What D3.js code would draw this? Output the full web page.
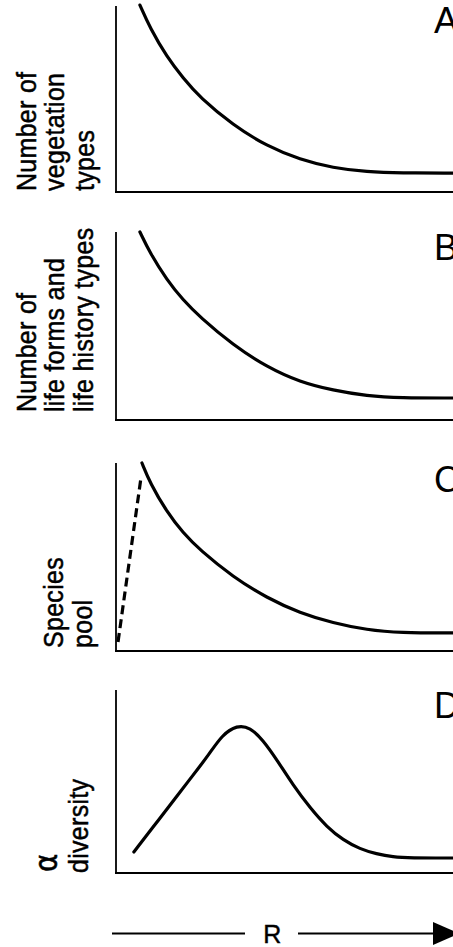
<!DOCTYPE html>
<html lang="en">
<head>
<meta charset="utf-8">
<title>diversity vs R</title>
<script src="https://d3js.org/d3.v7.min.js"></script>
<style type="text/css">
  body { margin: 0; background: white; }
  text { font-family: "Liberation Sans", Arial, sans-serif; fill: black; }
  .lab { stroke: black; stroke-width: 0.45px; letter-spacing: 0.3px; }
</style>
</head>
<body>
<div id="chart"></div>
<script>
  // R position along the gradient (0..100), values are heights (0..100 = top of axis)
  var rA = [7.1, 10.1, 15.1, 19.9, 24.9, 34.7, 44.8, 54.6, 64.4, 74.5, 84.3, 100];
  var vegTypes = [100.5, 88.2, 72.6, 61.3, 50.8, 36.0, 24.6, 17.4, 12.9, 10.8, 10.2, 10.2];

  var rB = [7.1, 10.1, 15.1, 19.9, 24.9, 34.7, 44.8, 54.6, 64.4, 74.5, 84.3, 100];
  var lifeForms = [100, 88.8, 74.5, 63.8, 54.8, 39.9, 28.2, 20.2, 15.8, 12.8, 11.7, 11.7];

  var rC = [7.7, 10.1, 15.1, 19.9, 24.9, 34.7, 44.8, 54.6, 64.4, 74.5, 84.3, 100];
  var speciesPool = [100, 89.4, 73.9, 62.8, 53.7, 39.4, 28.2, 20.2, 14.9, 11.2, 9.6, 9.6];
  var rCdash = [0.6, 7.4];
  var poolRise = [4.8, 92];

  var rD = [5.3, 13.1, 18.1, 22.8, 27.6, 31.5, 35.9, 39.8, 43.6, 47.8, 52.5, 57.6, 62.6, 67.4, 72.4, 77.3, 82.2, 87.2, 100];
  var alphaDiv = [11.5, 30.1, 42.1, 53.3, 64.8, 75.5, 80.8, 79.6, 72.7, 61.7, 48.1, 35.5, 25.1, 18.0, 13.1, 10.4, 8.7, 8.2, 8.2];

  var panelLetters = ["A", "B", "C", "D"];
  var labelA = ["Number of", "vegetation", "types"];
  var labelB = ["Number of", "life forms and", "life history types"];
  var labelC = ["Species", "pool"];
  var labelD = ["\u03b1", "diversity"];

  var W = 453, H = 947;
  var svg = d3.select("#chart").append("svg")
    .attr("width", W)
    .attr("height", H);

  var x = d3.scaleLinear().domain([0, 100]).range([116, 453]);

  // layout of each panel (pixel frame only)
  var panels = [
    {top: 6,   bottom: 192, r: rA, v: vegTypes,    label: labelA, lx: [36, 64, 94], ly: 191, letterY: 33},
    {top: 232, bottom: 420, r: rB, v: lifeForms,   label: labelB, lx: [36, 64, 93], ly: 412, letterY: 260},
    {top: 463, bottom: 651, r: rC, v: speciesPool, label: labelC, lx: [63, 92],     ly: 648, letterY: 492},
    {top: 690, bottom: 873, r: rD, v: alphaDiv,    label: labelD, lx: [57, 88],     ly: 873, letterY: 718}
  ];

  var line = d3.line().curve(d3.curveBasis);

  panels.forEach(function(p, i) {
    var y = d3.scaleLinear().domain([0, 100]).range([p.bottom, p.top]);
    var g = svg.append("g");

    // y axis
    g.append("line")
      .attr("x1", x(0)).attr("x2", x(0))
      .attr("y1", y(100)).attr("y2", y(0))
      .attr("stroke", "black").attr("stroke-width", 1.8);
    // x axis
    g.append("line")
      .attr("x1", x(0) - 1).attr("x2", x(100) + 5)
      .attr("y1", y(0)).attr("y2", y(0))
      .attr("stroke", "black").attr("stroke-width", 2.2);

    var pts = p.r.map(function(d, j) { return [x(d), y(p.v[j])]; });
    g.append("path")
      .attr("d", line(pts))
      .attr("fill", "none")
      .attr("stroke", "black")
      .attr("stroke-width", 3.2)
      .attr("stroke-linecap", "round");

    if (i == 2) {
      var dpts = rCdash.map(function(d, j) { return [x(d), y(poolRise[j])]; });
      g.append("path")
        .attr("d", d3.line()(dpts))
        .attr("fill", "none")
        .attr("stroke", "black")
        .attr("stroke-width", 3.2)
        .attr("stroke-dasharray", "9,5");
    }

    // rotated axis label, one text per line
    p.label.forEach(function(t, k) {
      var isAlpha = (i == 3 && k == 0);
      g.append("text")
        .attr("class", "lab")
        .attr("transform", "translate(" + p.lx[k] + "," + (isAlpha ? p.ly - 1 : p.ly) + ") rotate(-90) scale(1,1.12)")
        .attr("text-anchor", "start")
        .style("font-family", isAlpha ? "'DejaVu Sans', sans-serif" : null)
        .style("font-size", isAlpha ? "28px" : "25px")
        .text(t);
    });

    // panel letter, cut off at the right edge like the original
    g.append("text")
      .attr("x", 434)
      .attr("y", p.letterY)
      .style("font-size", "36px")
      .text(panelLetters[i]);
  });

  // R arrow at the bottom
  var ay = 933.5;
  svg.append("line")
    .attr("x1", 112).attr("x2", 245).attr("y1", ay).attr("y2", ay)
    .attr("stroke", "black").attr("stroke-width", 2.2);
  svg.append("text")
    .attr("class", "lab")
    .attr("x", 272.5).attr("y", 943)
    .attr("text-anchor", "middle")
    .style("font-size", "25px")
    .text("R");
  svg.append("line")
    .attr("x1", 298).attr("x2", 436).attr("y1", ay).attr("y2", ay)
    .attr("stroke", "black").attr("stroke-width", 2.2);
  svg.append("path")
    .attr("d", "M433," + (ay - 11.5) + "L459," + ay + "L433," + (ay + 11.5) + "Z")
    .attr("fill", "black");
</script>
</body>
</html>
